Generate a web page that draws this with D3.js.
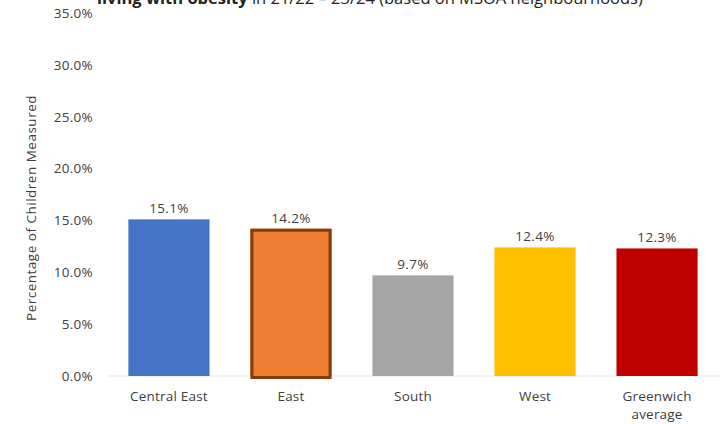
<!DOCTYPE html>
<html><head><meta charset="utf-8">
<script src="https://cdn.jsdelivr.net/npm/d3@7"></script>
<style>body{margin:0;background:#fff}svg{display:block}text{font-family:"Open Sans",Roboto,sans-serif}</style>
</head><body>
<svg id="c" width="720" height="424"></svg>
<script>
const categories = ["Central East", "East", "South", "West", "Greenwich average"];
const values = [15.1, 14.2, 9.7, 12.4, 12.3];
const colors = ["#4472C4", "#ED7D31", "#A5A5A5", "#FFC000", "#C00000"];
const yTicks = [0, 5, 10, 15, 20, 25, 30, 35];
const titleBold = "living with obesity";
const titleRest = " in 21/22 – 23/24 (based on MSOA neighbourhoods)";
const yTitle = "Percentage of Children Measured";

const svg = d3.select("#c");
const m = {l:108, r:2};
const W = 720;
const x = d3.scaleBand().domain(categories).range([m.l, W - m.r]).paddingInner(0.335).paddingOuter(0.167);
const y = d3.scaleLinear().domain([0, 35]).range([376, 13]);

// title (clipped at top, as in the reference)
const t = svg.append("text").attr("x", 97).attr("y", 4).attr("font-size", 16.5).attr("fill", "#222");
t.append("tspan").attr("font-weight", "bold").text(titleBold);
t.append("tspan").text(titleRest);

// y axis
const ya = svg.append("g").attr("transform", `translate(${m.l - 15},0)`)
  .call(d3.axisLeft(y).tickValues(yTicks).tickSize(0).tickPadding(0).tickFormat(d => d.toFixed(1) + "%"));
ya.select(".domain").remove();
ya.selectAll("text").attr("font-size", 13.5).attr("fill", "#404040")
  .attr("font-family", "'Open Sans',Roboto,sans-serif").attr("letter-spacing", 0.3);

// baseline
svg.append("line").attr("x1", m.l).attr("x2", W).attr("y1", y(0)).attr("y2", y(0))
  .attr("stroke", "#e6e6e6").attr("stroke-width", 1);

// bars
svg.selectAll("rect.bar").data(categories).join("rect").attr("class", "bar")
  .attr("x", d => x(d)).attr("width", x.bandwidth())
  .attr("y", (d, i) => y(values[i])).attr("height", (d, i) => y(0) - y(values[i]))
  .attr("fill", (d, i) => colors[i]);
// highlighted East border
svg.append("rect")
  .attr("x", x("East") + 1.5).attr("width", x.bandwidth() - 3)
  .attr("y", y(values[1]) + 1.5).attr("height", y(0) - y(values[1]))
  .attr("fill", "none").attr("stroke", "#843C0C").attr("stroke-width", 3);

// value labels
svg.selectAll("text.val").data(categories).join("text").attr("class", "val")
  .attr("x", d => x(d) + x.bandwidth() / 2).attr("y", (d, i) => y(values[i]) - 6)
  .attr("text-anchor", "middle").attr("font-size", 13.5).attr("letter-spacing", 0.3).attr("fill", "#404040")
  .text((d, i) => values[i].toFixed(1) + "%");

// x axis labels
const xl = svg.selectAll("text.cat").data(categories).join("text").attr("class", "cat")
  .attr("x", d => x(d) + x.bandwidth() / 2).attr("y", 401)
  .attr("text-anchor", "middle").attr("font-size", 13.5).attr("letter-spacing", 0.2).attr("fill", "#404040");
xl.each(function(d) {
  const el = d3.select(this);
  const parts = d === "Greenwich average" ? ["Greenwich", "average"] : [d];
  parts.forEach((p, k) => el.append("tspan").attr("x", x(d) + x.bandwidth() / 2).attr("dy", k ? 18 : 0).text(p));
});

// y title
svg.append("text").attr("transform", "translate(36,208) rotate(-90)")
  .attr("text-anchor", "middle").attr("font-size", 13.5).attr("letter-spacing", 0.5).attr("fill", "#404040").text(yTitle);
</script>
</body></html>
